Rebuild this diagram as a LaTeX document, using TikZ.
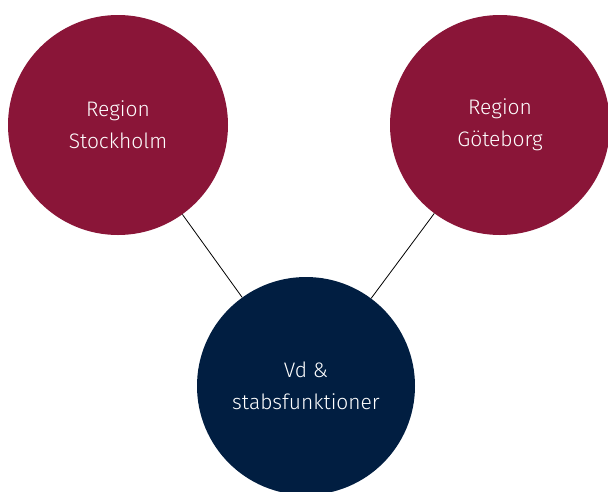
\documentclass[tikz,border=0pt]{standalone}
\usepackage{fontspec}
\setmainfont{Fira Sans Light}
\definecolor{maroon}{HTML}{8A1538}
\definecolor{navy}{HTML}{011E41}
\begin{document}
\begin{tikzpicture}[x=1pt,y=-1pt,
  region/.style={circle,fill=maroon,minimum size=220pt,inner sep=0pt,
    text=white,align=center,font=\fontsize{21}{32}\selectfont},
  hq/.style={circle,fill=navy,minimum size=218pt,inner sep=0pt,
    text=white,align=center,font=\fontsize{21}{32}\selectfont},
  link/.style={draw=black,line width=0.8pt}]
\useasboundingbox (0,0) rectangle (608,491);
\node[region] (sth) at (118,125) {Region\\Stockholm};
\node[region] (gbg) at (500,125) {Region\\Göteborg};
\node[hq] (vd) at (306,386) {Vd \&\\stabsfunktioner};
\draw[link] (sth) -- (vd);
\draw[link] (gbg) -- (vd);
\end{tikzpicture}
\end{document}
